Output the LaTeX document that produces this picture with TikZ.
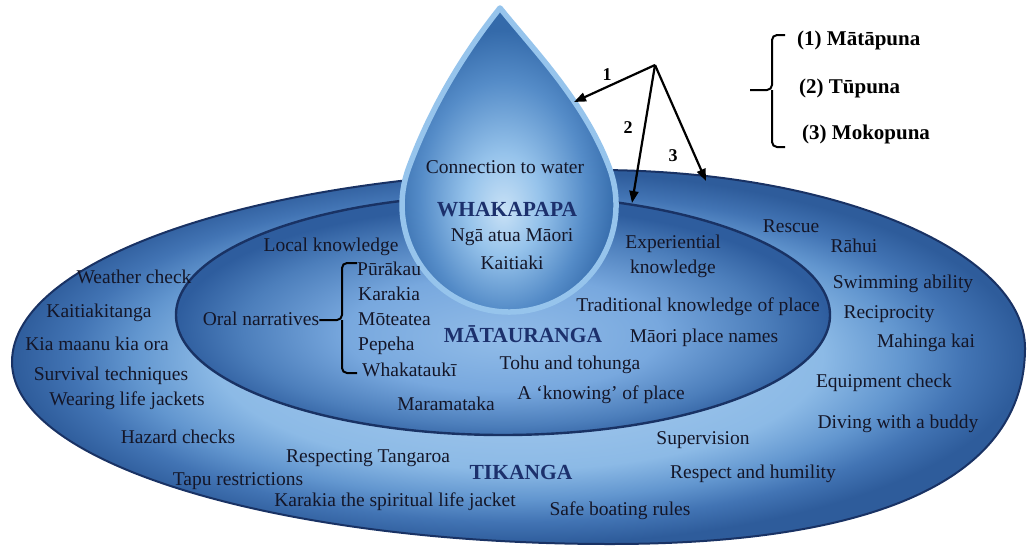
\documentclass[tikz,border=0pt]{standalone}
\usepackage{fontspec}
\setmainfont{Liberation Serif}
\usetikzlibrary{arrows.meta}
\definecolor{txtc}{RGB}{20,22,40}
\definecolor{headc}{RGB}{28,48,108}
\definecolor{rimc}{RGB}{150,196,236}
\definecolor{edgec}{RGB}{25,50,100}
\definecolor{oa}{RGB}{172,205,240}
\definecolor{ob}{RGB}{140,186,230}
\definecolor{oc}{RGB}{98,150,207}
\definecolor{od}{RGB}{66,116,180}
\definecolor{oe}{RGB}{46,92,155}
\definecolor{ia}{RGB}{145,188,232}
\definecolor{ib}{RGB}{120,168,222}
\definecolor{ic}{RGB}{76,126,187}
\definecolor{id}{RGB}{46,93,158}
\definecolor{da}{RGB}{200,225,246}
\definecolor{db}{RGB}{150,195,235}
\definecolor{dc}{RGB}{85,140,200}
\definecolor{dd}{RGB}{52,106,170}
\pgfdeclareradialshading{outershade}{\pgfpoint{0bp}{0bp}}{color(0bp)=(oa); color(15bp)=(ob); color(19bp)=(oc); color(22bp)=(od); color(25bp)=(oe); color(50bp)=(oe)}
\pgfdeclareradialshading{innershade}{\pgfpoint{0bp}{-5bp}}{color(0bp)=(ia); color(12bp)=(ib); color(20bp)=(ic); color(25bp)=(id); color(50bp)=(id)}
\pgfdeclareradialshading{dropshade}{\pgfpoint{0bp}{-7bp}}{color(0bp)=(da); color(8bp)=(db); color(18bp)=(dc); color(25bp)=(dd); color(50bp)=(dd)}
\begin{document}
\begin{tikzpicture}[x=1pt,y=-1pt,
 txt/.style={font=\fontsize{19.5}{23}\selectfont, text=txtc, inner sep=0pt, anchor=base},
 txtl/.style={txt, anchor=base west},
 head/.style={font=\fontsize{21.5}{25}\selectfont\bfseries, text=headc, inner sep=0pt, anchor=base},
 lab/.style={font=\fontsize{21}{25}\selectfont\bfseries, text=black, inner sep=0pt, anchor=base west},
 num/.style={font=\fontsize{18}{20}\selectfont\bfseries, text=black, inner sep=0pt},
 arr/.style={line width=2.2pt, -{Triangle[length=12pt,width=9pt]}},
 bracepath/.style={line width=2pt, rounded corners=5pt}
]
\useasboundingbox (0,0) rectangle (1027,546);
% outer ellipse (Tikanga)
\draw[draw=edgec, line width=2pt, shading=outershade]
  (12,362) .. controls (12,256) and (273,170) .. (595,170)
  .. controls (834,170) and (1025,251) .. (1025,348)
  .. controls (1025,477) and (880,544) .. (610,544)
  .. controls (280,544) and (12,464) .. (12,362) -- cycle;
% inner ellipse (Matauranga)
\draw[draw=edgec, line width=2.4pt, shading=innershade] (503,315) ellipse [x radius=327, y radius=120];
% drop (Whakapapa)
\draw[draw=rimc, line width=5.5pt, line join=round, shading=dropshade]
  (500,8) .. controls (468,48) and (432.5,102.6) .. (408.5,168.4)
  arc[start angle=200, end angle=-20, radius=107]
  .. controls (585.5,102.6) and (532,48) .. (500,8) -- cycle;

% drop texts
\node[txt] (conn) at (505,173) {Connection to water};
\node[head] (whak) at (507,216) {WHAKAPAPA};
\node[txt] (atua) at (512,241) {Ngā atua Māori};
\node[txt] (kait) at (512,269) {Kaitiaki};

% matauranga texts
\node[txt] (local) at (331,251) {Local knowledge};
\node[txt] (exp1) at (673,248) {Experiential};
\node[txt] (exp2) at (673,273) {knowledge};
\node[txt] (oral) at (261,325) {Oral narratives};
\node[txtl] (pura) at (357,275) {Pūrākau};
\node[txtl] (kara) at (358,300) {Karakia};
\node[txtl] (mote) at (358,325) {Mōteatea};
\node[txtl] (pepe) at (358,350) {Pepeha};
\node[txtl] (whkt) at (362,376) {Whakataukī};
\node[head] (mata) at (523,342) {MĀTAURANGA};
\node[txt] (trad) at (698,311) {Traditional knowledge of place};
\node[txt] (mpn) at (704,342) {Māori place names};
\node[txt] (tohu) at (570,369) {Tohu and tohunga};
\node[txt] (know) at (601,399) {A ‘knowing’ of place};
\node[txt] (mara) at (446,410) {Maramataka};

% tikanga texts
\node[txt] (resc) at (791,232) {Rescue};
\node[txt] (rahu) at (854,252) {Rāhui};
\node[txt] (swim) at (903,288) {Swimming ability};
\node[txt] (reci) at (889,318) {Reciprocity};
\node[txt] (mahi) at (926,347) {Mahinga kai};
\node[txt] (equi) at (884,387) {Equipment check};
\node[txt] (divi) at (898,428) {Diving with a buddy};
\node[txt] (weat) at (134,283) {Weather check};
\node[txt] (ktng) at (99,317) {Kaitiakitanga};
\node[txt] (kiam) at (97,350) {Kia maanu kia ora};
\node[txt] (surv) at (111,380) {Survival techniques};
\node[txt] (wear) at (127,405) {Wearing life jackets};
\node[txt] (haza) at (178,443) {Hazard checks};
\node[txt] (resp) at (368,462) {Respecting Tangaroa};
\node[txt] (tapu) at (238,485) {Tapu restrictions};
\node[txt] (kslj) at (395,506) {Karakia the spiritual life jacket};
\node[head] (tika) at (521,479) {TIKANGA};
\node[txt] (safe) at (620,515) {Safe boating rules};
\node[txt] (supe) at (703,444) {Supervision};
\node[txt] (rehu) at (753,478) {Respect and humility};

% oral narratives brace
\coordinate (ob1) at (357,263);
\coordinate (ob2) at (357,373);
\coordinate (obm) at (342,320);
\draw[bracepath] (ob1) -- (342,263) -- (obm) -- (oral.east |- obm);
\draw[bracepath] (ob2) -- (342,373) -- (obm);

% generations brace and labels
\node[lab] (mata1) at (797,45) {(1) Mātāpuna};
\node[lab] (tupu) at (799,93) {(2) Tūpuna};
\node[lab] (moko) at (802,139) {(3) Mokopuna};
\coordinate (gb1) at (785,35);
\coordinate (gb2) at (785,147);
\coordinate (gbm) at (772,90);
\coordinate (gtip) at (750,90);
\draw[bracepath] (gb1) -- (772,35) -- (gbm) -- (gtip);
\draw[bracepath] (gb2) -- (772,147) -- (gbm);

% arrows
\coordinate (apex) at (655,65);
\coordinate (t1) at (574,102);
\coordinate (t2) at (632,203);
\coordinate (t3) at (706,181);
\draw[arr] (apex) -- (t1);
\draw[arr] (apex) -- (t2);
\draw[arr] (apex) -- (t3);
\node[num] (n1) at (607,75) {1};
\node[num] (n2) at (628,128) {2};
\node[num] (n3) at (673,156) {3};
\end{tikzpicture}
\end{document}
